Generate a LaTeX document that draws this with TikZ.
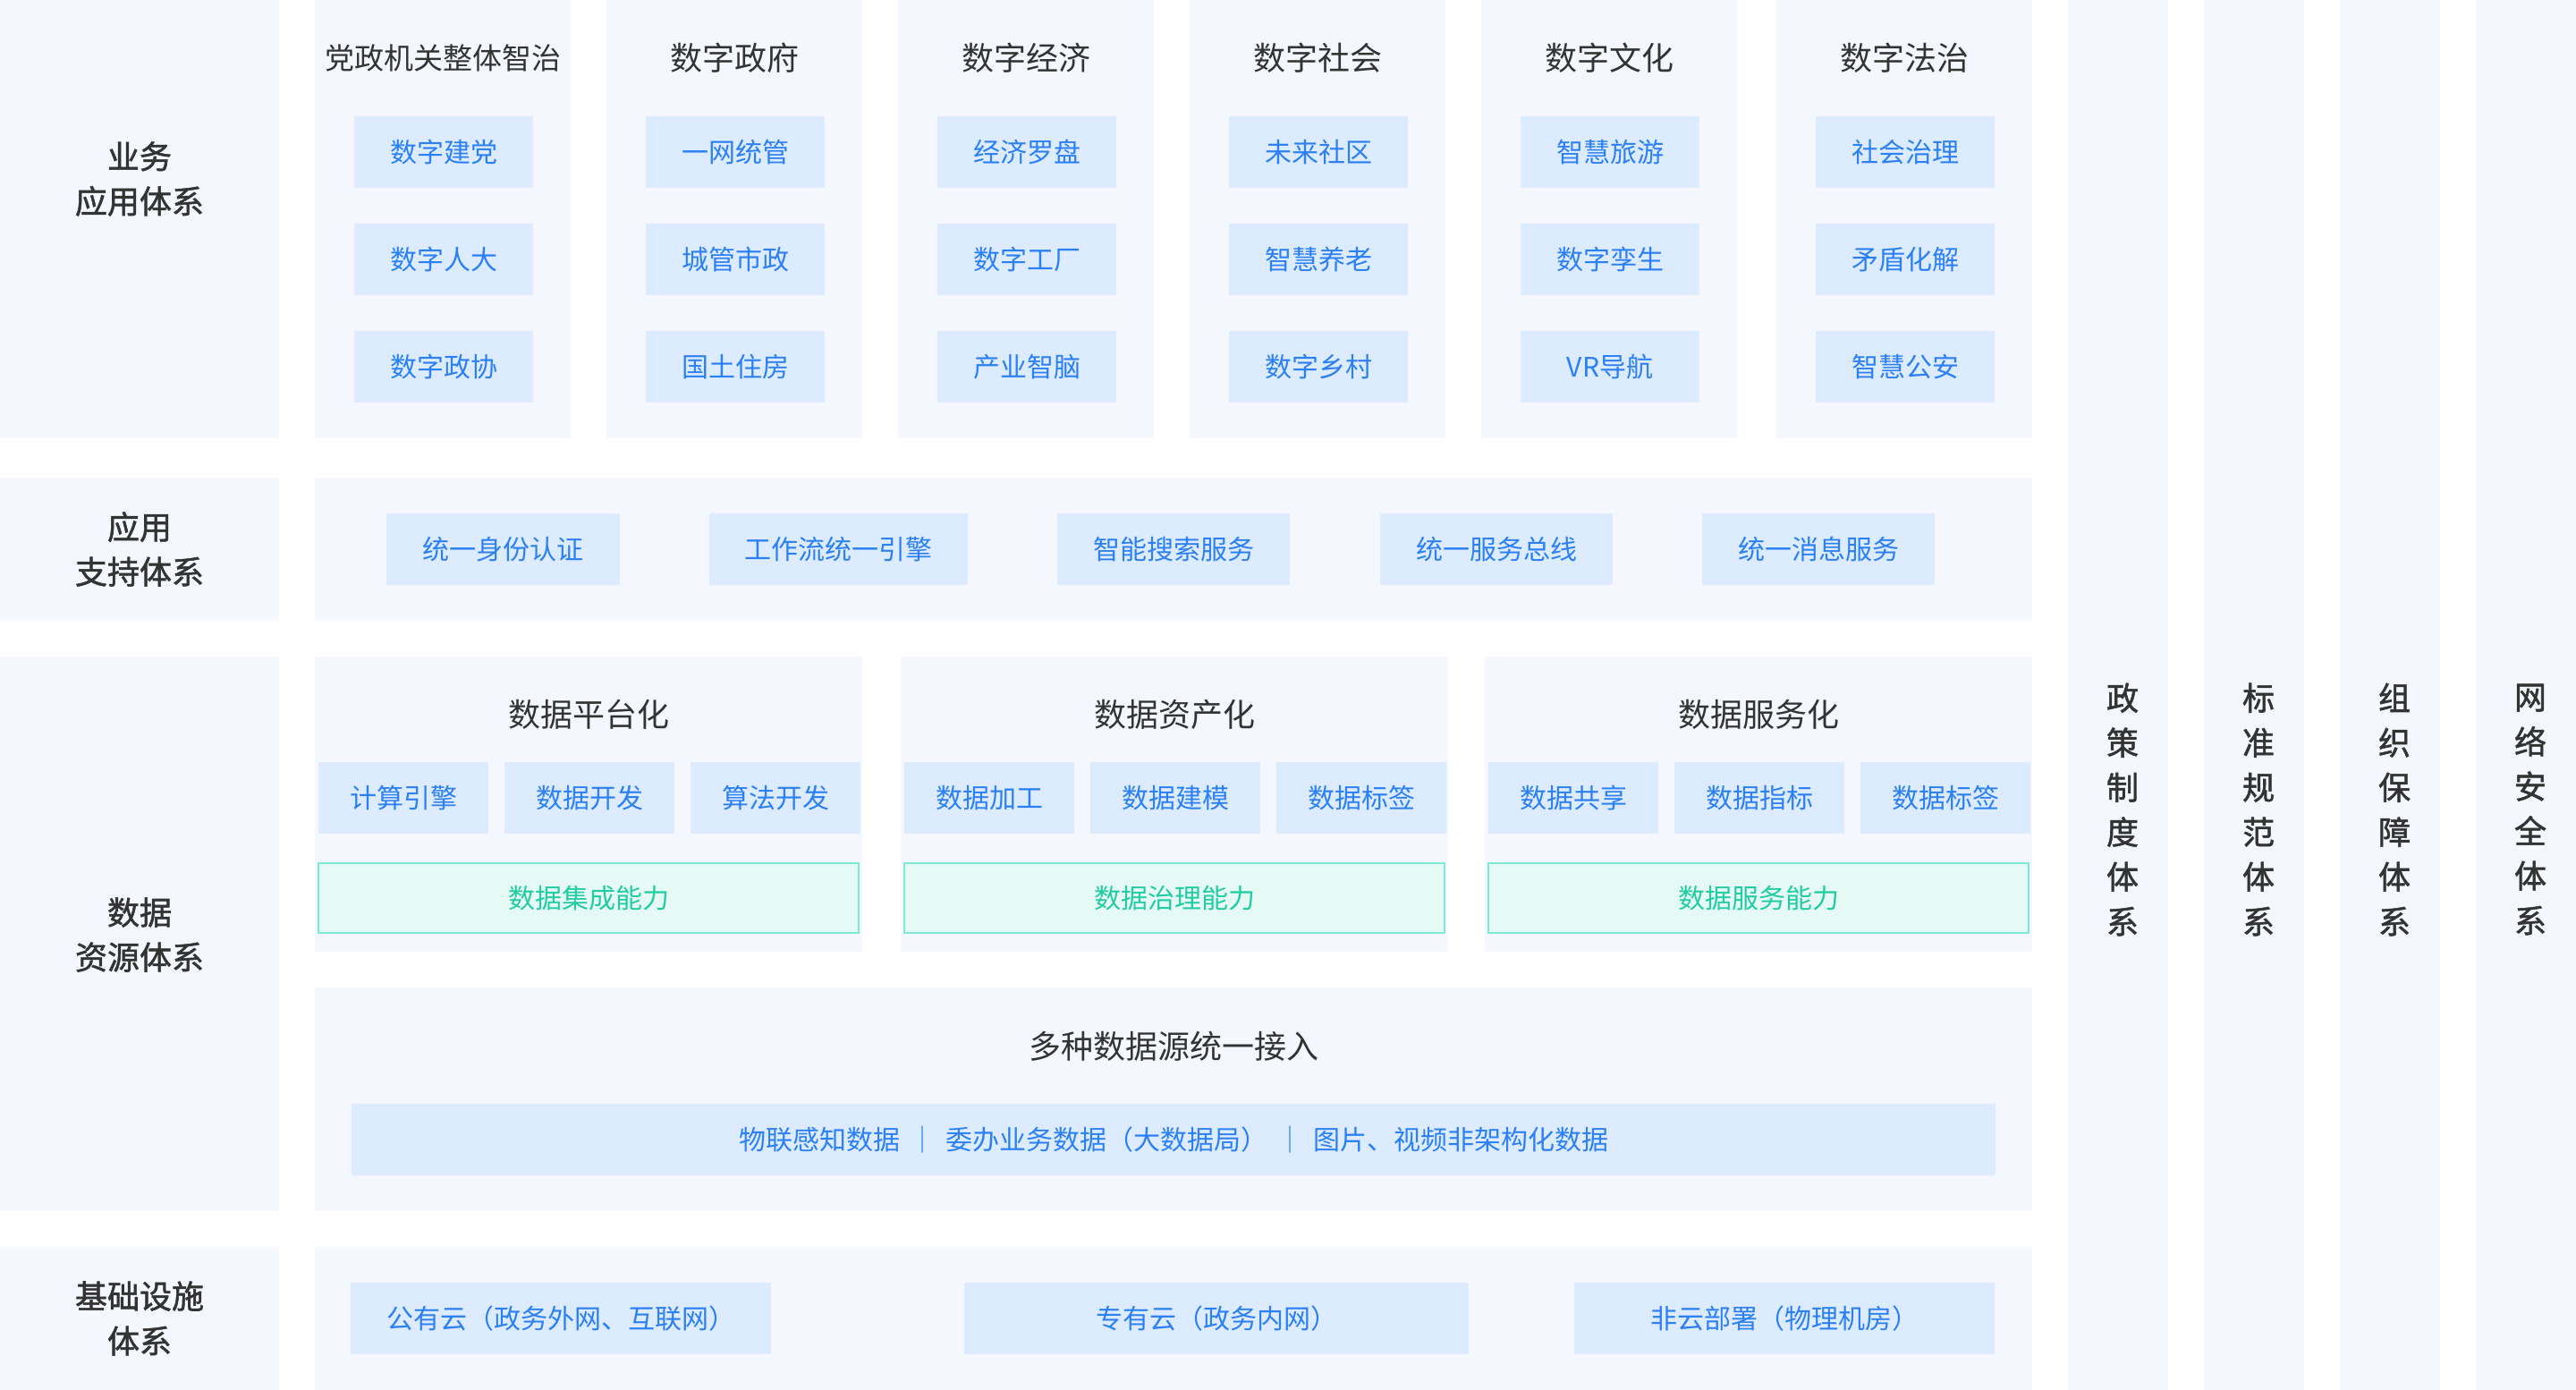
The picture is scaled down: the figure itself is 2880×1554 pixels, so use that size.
\documentclass[tikz,border=0pt]{standalone}
\usepackage{fontspec}
\setmainfont{Noto Sans CJK SC}
\newfontfamily\heavyfont[FakeBold=1.5]{Noto Sans CJK SC}
\definecolor{panelbg}{HTML}{F4F8FE}
\definecolor{cellbg}{HTML}{DCEBFD}
\definecolor{celltext}{HTML}{2B7FF7}
\definecolor{titletext}{HTML}{333333}
\definecolor{mintbg}{HTML}{E6FAF5}
\definecolor{mintline}{HTML}{7DE8D6}
\definecolor{minttext}{HTML}{22CCA2}
\tikzstyle{panel}=[fill=panelbg]
\tikzstyle{cell}=[rectangle,fill=cellbg,text=celltext,inner sep=0pt,outer sep=0pt,minimum height=80pt,font=\fontsize{30}{36}\selectfont]
\tikzstyle{ability}=[rectangle,draw=mintline,line width=2pt,fill=mintbg,text=minttext,inner sep=0pt,minimum width=604pt,minimum height=78pt,font=\fontsize{30}{36}\selectfont]
\tikzstyle{title}=[text=titletext,inner sep=0pt,font=\fontsize{36}{44}\selectfont]
\tikzstyle{layer}=[text=titletext,inner sep=0pt,align=center,font=\heavyfont\fontsize{36}{50}\selectfont]

\begin{document}
\begin{tikzpicture}[x=1pt,y=-1pt]
        \useasboundingbox (0,0) rectangle (2880,1554);
        \path[panel] (0,0) rectangle (312,490);
        \path[panel] (0,534) rectangle (312,694);
        \path[panel] (0,734) rectangle (312,1354);
        \path[panel] (0,1394) rectangle (312,1554);
        \node[layer] (l1) at (156,200) {业务\\应用体系};
        \node[layer] (l2) at (156,614) {应用\\支持体系};
        \node[layer] (l3) at (156,1045) {数据\\资源体系};
        \node[layer] (l4) at (156,1474) {基础设施\\体系};

        \foreach \name/\ia/\ib/\ic [count=\i from 0] in {{\fontsize{33}{40}\selectfont 党政机关整体智治}/数字建党/数字人大/数字政协,
                数字政府/一网统管/城管市政/国土住房, 数字经济/经济罗盘/数字工厂/产业智脑,
                数字社会/未来社区/智慧养老/数字乡村, 数字文化/智慧旅游/数字孪生/VR导航,
                数字法治/社会治理/矛盾化解/智慧公安}{
            \pgfmathsetmacro{\cx}{352+326*\i+4*(\i==5)}
            \path[panel] (\cx,0) rectangle ++(286,490);
            \node[title] (t\i) at ({\cx+143},65) {\name};
            \node[cell,minimum width=200pt] (a\i) at ({\cx+144},170) {\ia};
            \node[cell,minimum width=200pt] (b\i) at ({\cx+144},290) {\ib};
            \node[cell,minimum width=200pt] (c\i) at ({\cx+144},410) {\ic};
        }

        \path[panel] (352,534) rectangle (2272,694);
        \foreach \x/\w/\txt [count=\i] in {562.5/261/统一身份认证, 937.5/289/工作流统一引擎,
                1312/260/智能搜索服务, 1673/260/统一服务总线, 2033/260/统一消息服务}{
            \node[cell,minimum width=\w pt] (s\i) at (\x,614) {\txt};
        }

        \foreach \x/\name/\ia/\ib/\ic/\cap [count=\i] in {352/数据平台化/计算引擎/数据开发/算法开发/数据集成能力,
                1007/数据资产化/数据加工/数据建模/数据标签/数据治理能力,
                1660/数据服务化/数据共享/数据指标/数据标签/数据服务能力}{
            \path[panel] (\x,734) rectangle ++(612,330);
            \node[title] (d\i) at ({\x+306},799) {\name};
            \node[cell,minimum width=190pt] (d\i a) at ({\x+99},892) {\ia};
            \node[cell,minimum width=190pt] (d\i b) at ({\x+307},892) {\ib};
            \node[cell,minimum width=190pt] (d\i c) at ({\x+515},892) {\ic};
            \node[ability] (e\i) at ({\x+306},1004) {\cap};
        }

        \path[panel] (352,1104) rectangle (2272,1354);
        \node[title] (src) at (1312,1170) {多种数据源统一接入};
        \node[cell,minimum width=1838pt] (srcs) at (1312,1274)
            {物联感知数据\hspace{0.35em}｜\hspace{0.35em}委办业务数据（大数据局）\hspace{0.35em}｜\hspace{0.35em}图片、视频非架构化数据};

        \path[panel] (352,1394) rectangle (2272,1554);
        \node[cell,minimum width=470pt] (f1) at (627,1474) {公有云（政务外网、互联网）};
        \node[cell,minimum width=564pt] (f2) at (1360,1474) {专有云（政务内网）};
        \node[cell,minimum width=470pt] (f3) at (1995,1474) {非云部署（物理机房）};

        \foreach \x in {2312,2464,2616,2768}{
            \path[panel] (\x,0) rectangle ++(112,1554);
        }
        \node[layer] (r1) at (2373,905) {政\\策\\制\\度\\体\\系};
        \node[layer] (r2) at (2525,905) {标\\准\\规\\范\\体\\系};
        \node[layer] (r3) at (2677,905) {组\\织\\保\\障\\体\\系};
        \node[layer] (r4) at (2829,905) {网\\络\\安\\全\\体\\系};
    \end{tikzpicture}
\end{document}
